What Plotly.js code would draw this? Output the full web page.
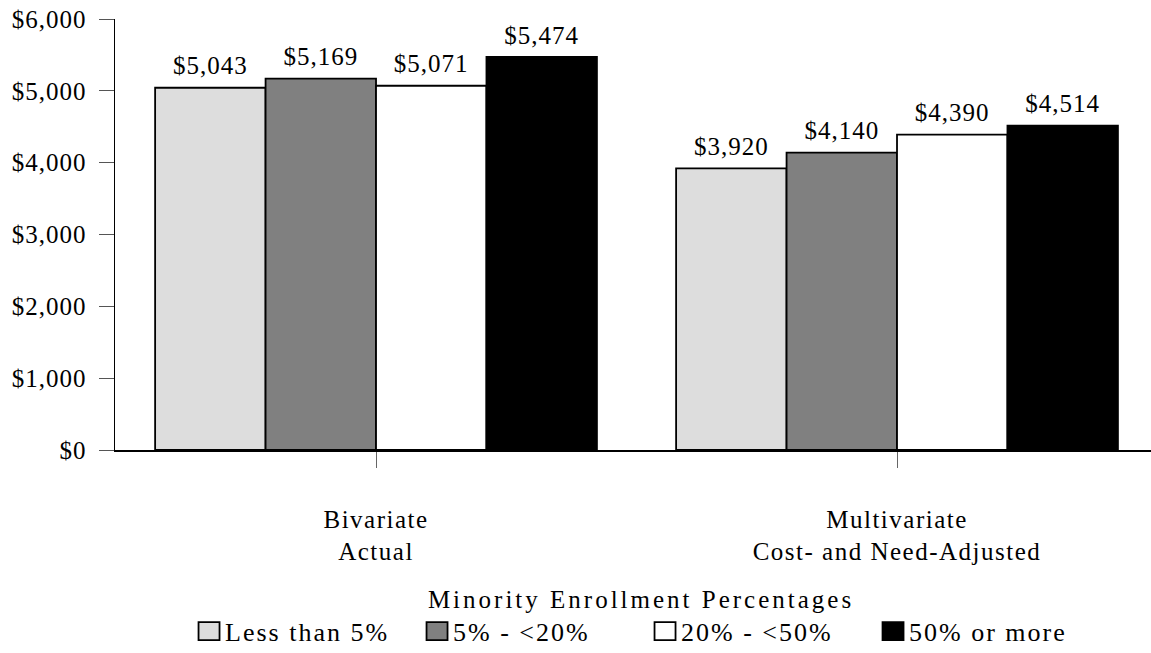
<!DOCTYPE html>
<html>
<head>
<meta charset="utf-8">
<script src="https://cdn.plot.ly/plotly-3.0.1.min.js"></script>
<style>
  html, body { margin: 0; padding: 0; background: #fff; }
  #chart { width: 1151px; height: 653px; }
  .ytick text, .textpoint text { letter-spacing: 1px; }
  .textpoint text { transform: translateY(-7px); }
  .xtick text { letter-spacing: 1.5px; }
  .legendtext { letter-spacing: 2px; }
  .legendtitletext { letter-spacing: 3px; }
  .legendpoints path { transform: translate(24px, 0px) scale(1.75, 1.5); vector-effect: non-scaling-stroke; }
</style>
</head>
<body>
<div id="chart"></div>
<script>
// ---- data ----
const categories = ['Bivariate<br>Actual', 'Multivariate<br>Cost- and Need-Adjusted'];
const seriesNames = ['Less than 5%', '5% - <20%', '20% - <50%', '50% or more'];
const lessThan5 = [5043, 3920];
const from5to20 = [5169, 4140];
const from20to50 = [5071, 4390];
const fiftyPlus = [5474, 4514];
const yTicks = [0, 1000, 2000, 3000, 4000, 5000, 6000];
const legendTitle = 'Minority Enrollment Percentages';

// ---- styles ----
const seriesValues = [lessThan5, from5to20, from20to50, fiftyPlus];
const fills = ['#dddddd', '#808080', '#ffffff', '#000000'];
const FONT = 'Liberation Serif, Times New Roman, serif';
const money = v => '$' + v.toLocaleString('en-US');

const traces = [];
seriesValues.forEach((vals, i) => {
  traces.push({
    type: 'bar', name: seriesNames[i], x: categories, y: vals,
    marker: { color: fills[i], line: { color: '#000', width: 1.8 } },
    hoverinfo: 'skip'
  });
});
seriesValues.forEach((vals, i) => {
  traces.push({
    type: 'scatter', mode: 'text', x: categories, y: vals,
    text: vals.map(money),
    textposition: 'top center',
    textfont: { family: FONT, size: 25, color: '#000' },
    showlegend: false, hoverinfo: 'skip', cliponaxis: false
  });
});

const layout = {
  width: 1151, height: 653,
  margin: { l: 115, r: 0, t: 19, b: 202.5, autoexpand: false },
  paper_bgcolor: '#fff', plot_bgcolor: '#fff',
  font: { family: FONT, size: 25, color: '#000' },
  barmode: 'group', bargap: 0.152, bargroupgap: 0,
  scattermode: 'group', scattergap: 0.152,
  showlegend: true,
  xaxis: {
    type: 'category', range: [-0.501, 1.4875],
    showline: true, linecolor: '#000', linewidth: 1.5,
    ticks: 'outside', ticklen: 16, tickcolor: '#666', tickwidth: 1,
    showgrid: false, zeroline: false,
    ticklabelstandoff: 30,
    tickfont: { family: FONT, size: 25, color: '#000' }
  },
  yaxis: {
    range: [0, 6000], tickmode: 'array', tickvals: yTicks, ticktext: yTicks.map(money),
    showline: true, linecolor: '#000', linewidth: 1.5,
    ticks: 'outside', ticklen: 15, tickcolor: '#555', tickwidth: 1,
    showgrid: false, zeroline: false,
    ticklabelstandoff: 7,
    tickfont: { family: FONT, size: 25, color: '#000' }
  },
  legend: {
    orientation: 'h', x: 0.0676, xanchor: 'left', y: -0.2907, yanchor: 'top',
    title: { text: legendTitle, side: 'top center', font: { family: FONT, size: 25 } },
    font: { family: FONT, size: 26, color: '#000' },
    traceorder: 'normal', itemwidth: 30,
    entrywidth: 183, entrywidthmode: 'pixels'
  }
};

Plotly.newPlot('chart', traces, layout, { displayModeBar: false, staticPlot: true });
</script>
</body>
</html>
